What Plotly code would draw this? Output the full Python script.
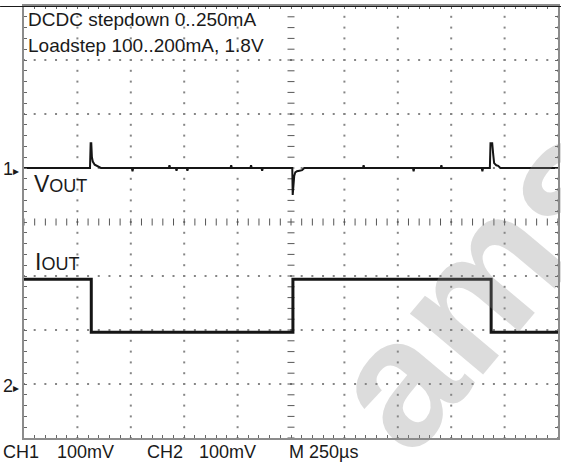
import numpy as np
import plotly.graph_objects as go

# ---- scope settings ----
US_PER_DIV = 250      # M 250 us
CH1_MV_PER_DIV = 100  # CH1 100mV
CH2_MV_PER_DIV = 100  # CH2 100mV
CH1_OFFSET_DIV = 1    # channel-1 ground marker
CH2_OFFSET_DIV = -3   # channel-2 ground marker

# ---- channel 1 : Vout (AC, mV) ----
vout_t_us = [0, 309, 312, 315, 318, 322, 331, 345, 360,
             505, 508, 511, 678, 681, 684, 711, 714, 717, 762, 765, 768,
             967, 970, 973, 1060, 1063, 1066, 1112, 1115, 1118,
             1256, 1258, 1261, 1265, 1270, 1278, 1290, 1302, 1312,
             1587, 1590, 1593, 1821, 1824, 1827, 1951, 1954, 1957,
             2143, 2146, 2149,
             2181, 2184, 2192, 2197, 2201, 2211, 2220, 2230, 2500]
vout_mv = [0, 0, 46, 46, 20, 12, 6, 3, 0,
           0, -6, 0, 0, 5, 0, 0, -5, 0, 0, -5, 0,
           0, 5, 0, 0, 5, 0, 0, -5, 0,
           0, -50, -28, -15, -8, -6, -5, -4, 0,
           0, 5, 0, 0, -6, 0, 0, 5, 0,
           0, -6, 0,
           0, 46, 46, 24, 9, 5, 4, 0, 0]

# ---- channel 2 : Iout (mV on probe) ----
iout_t_us = [0, 315, 315, 1259, 1259, 2187, 2187, 2500]
iout_mv = [194, 194, 96, 96, 194, 194, 96, 96]

# ---- texts ----
title_lines = ["DCDC stepdown 0..250mA", "Loadstep 100..200mA, 1.8V"]
bottom_labels = ["CH1", "100mV", "CH2", "100mV", "M 250µs"]
bottom_label_px = [3, 57, 147, 200, 290]

W, H = 561, 466
L, R, T, B = 24, 1, 6, 28
PW = W - L - R
PH = H - T - B
NX, NY = 10, 8


def px2x(px):
    return (px - L) / (PW / NX)


def py2y(py):
    return NY / 2 - (py - T) / (PH / NY)


def px2paper(px):
    return (px - L) / PW


def py2paper(py):
    return (T + PH - py) / PH


fig = go.Figure()

# graticule dots
gx, gy = [], []
minor_y = np.arange(-4, 4.001, 0.2)
minor_x = np.arange(0, 10.001, 0.2)
for xv in range(1, 11):
    if xv == 5:
        continue
    gx += [xv] * len(minor_y)
    gy += list(minor_y)
for yv in range(-3, 4):
    if yv == 0:
        continue
    gx += list(minor_x)
    gy += [yv] * len(minor_x)
fig.add_trace(go.Scatter(x=gx, y=gy, mode="markers", hoverinfo="skip",
                         marker=dict(symbol="square", size=2, color="#858585", line_width=0),
                         showlegend=False))
# center axes with ticks
fig.add_trace(go.Scatter(x=list(minor_x), y=[0] * len(minor_x), mode="markers", hoverinfo="skip",
                         marker=dict(symbol="line-ns", size=5, line=dict(width=1, color="#555555")),
                         showlegend=False))
fig.add_trace(go.Scatter(x=[5] * len(minor_y), y=list(minor_y), mode="markers", hoverinfo="skip",
                         marker=dict(symbol="line-ew", size=5, line=dict(width=1, color="#555555")),
                         showlegend=False))

# traces
fig.add_trace(go.Scatter(
    x=[t / US_PER_DIV for t in iout_t_us],
    y=[CH2_OFFSET_DIV + v / CH2_MV_PER_DIV for v in iout_mv],
    mode="lines", line=dict(color="#151515", width=3), showlegend=False))
fig.add_trace(go.Scatter(
    x=[t / US_PER_DIV for t in vout_t_us],
    y=[CH1_OFFSET_DIV + v / CH1_MV_PER_DIV for v in vout_mv],
    mode="lines", line=dict(color="#151515", width=2), showlegend=False))

font_main = "Liberation Sans, Arial, sans-serif"
ann = []
# watermark
ann.append(dict(x=px2x(480), y=py2y(282), xref="x", yref="y", text="<b>ams</b>",
                showarrow=False, textangle=-50,
                font=dict(family=font_main, size=180, color="rgba(140,140,140,0.30)")))
for line, pyc in zip(title_lines, [19, 45]):
    ann.append(dict(x=px2x(26), y=py2y(pyc), xref="x", yref="y", text=line,
                    xanchor="left", yanchor="middle", showarrow=False,
                    font=dict(family=font_main, size=19, color="#1a1a1a")))
ann.append(dict(x=px2x(32), y=py2y(184), xref="x", yref="y",
                text="<span style='font-size:23px'>V</span>OUT",
                xanchor="left", yanchor="middle", showarrow=False,
                font=dict(family=font_main, size=18, color="#1a1a1a")))
ann.append(dict(x=px2x(33), y=py2y(262), xref="x", yref="y",
                text="<span style='font-size:23px'>I</span>OUT",
                xanchor="left", yanchor="middle", showarrow=False,
                font=dict(family=font_main, size=18, color="#1a1a1a")))
for lbl, pyc in [("1", 169), ("2", 386)]:
    ann.append(dict(x=px2paper(1), y=py2paper(pyc), xref="paper", yref="paper",
                    text=lbl + "<span style='font-size:12px'>▸</span>",
                    xanchor="left", yanchor="middle", showarrow=False,
                    font=dict(family=font_main, size=18, color="#1a1a1a")))
for lbl, pxl in zip(bottom_labels, bottom_label_px):
    ann.append(dict(x=px2paper(pxl - 2), y=py2paper(452), xref="paper", yref="paper", text=lbl,
                    xanchor="left", yanchor="middle", showarrow=False,
                    font=dict(family=font_main, size=18, color="#1a1a1a")))

axis_common = dict(showgrid=False, zeroline=False, showline=True, linecolor="#8c8c8c",
                   linewidth=2, mirror="ticks", ticks="inside", dtick=0.2, tick0=0,
                   ticklen=3, tickcolor="#666666", tickwidth=1, showticklabels=False,
                   fixedrange=True)

fig.update_layout(
    width=W, height=H,
    margin=dict(l=L, r=R, t=T, b=B),
    paper_bgcolor="white", plot_bgcolor="white",
    xaxis=dict(range=[0, NX], **axis_common),
    yaxis=dict(range=[-NY / 2, NY / 2], **axis_common),
    annotations=ann,
    shapes=[dict(type="line", xref="paper", yref="y", x0=-L / PW, x1=1.01,
                 y0=NY / 2, y1=NY / 2, line=dict(color="#1a1a1a", width=2))],
    showlegend=False,
)

fig.write_html("out.html", config={"displayModeBar": False},
               post_script="document.body.style.margin='0';")
